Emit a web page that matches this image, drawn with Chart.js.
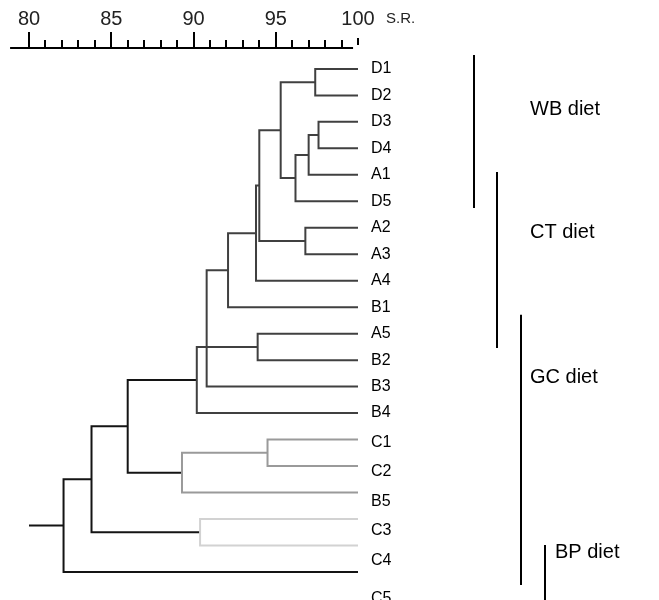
<!DOCTYPE html>
<html>
<head>
<meta charset="utf-8">
<script src="https://cdn.jsdelivr.net/npm/chart.js@4.4.1/dist/chart.umd.min.js"></script>
<style>
    body { margin: 0; background: #fff; }
</style>
</head>
<body>
<canvas id="dendro" width="659" height="600"></canvas>
<script>
const leaves = ['D1', 'D2', 'D3', 'D4', 'A1', 'D5', 'A2', 'A3', 'A4', 'B1',
    'A5', 'B2', 'B3', 'B4', 'C1', 'C2', 'B5', 'C3', 'C4', 'C5'];
// row where each label sits (labels of the C rows drift below their branches)
const labelSlot = [0, 1, 2, 3, 4, 5, 6, 7, 8, 9, 10, 11, 12, 13,
    14.13, 15.22, 16.36, 17.45, 18.59, 20.02];

// node 20 + i joins mergeLeft[i] and mergeRight[i] at similarity mergeLevel[i]
const mergeLeft = [0, 2, 21, 22, 20, 6, 24, 26, 27, 28, 10, 30, 14, 32, 31, 17, 34, 36];
const mergeRight = [1, 3, 4, 5, 23, 7, 25, 8, 9, 12, 11, 13, 15, 16, 33, 18, 35, 19];
const mergeLevel = [97.4, 97.6, 97.0, 96.2, 95.3, 96.8, 94.0, 93.8, 92.1, 90.8,
    93.9, 90.2, 94.5, 89.3, 86.0, 90.4, 83.8, 82.1];

const axisTicks = [80, 85, 90, 95, 100];

const dietNames = ['WB diet', 'CT diet', 'GC diet', 'BP diet'];
const dietFrom = [-0.53, 3.89, 9.29, 17.98];
const dietTo = [5.25, 10.54, 19.49, 20.1];

// colours of the branches, one per merge
const dark = '#404040', black = '#141414', grey = '#9a9a9a', light = '#d2d2d2';
const branchColor = [dark, dark, dark, dark, dark, dark, dark, dark, dark, dark, dark, dark,
    grey, grey, black, light, black, black];

// node positions: leaves sit at 100 %, a merge sits at its level, midway between its children
const nodeX = leaves.map(() => 100);
const nodeY = leaves.map((_, i) => i);
for (let i = 0; i < mergeLevel.length; i++) {
    nodeX.push(mergeLevel[i]);
    nodeY.push((nodeY[mergeLeft[i]] + nodeY[mergeRight[i]]) / 2);
}

const datasets = [];
for (let i = 0; i < mergeLevel.length; i++) {
    const a = mergeLeft[i], b = mergeRight[i];
    datasets.push({
        data: [
            { x: nodeX[a], y: nodeY[a] },
            { x: mergeLevel[i], y: nodeY[a] },
            { x: mergeLevel[i], y: nodeY[b] },
            { x: nodeX[b], y: nodeY[b] }
        ],
        borderColor: branchColor[i],
    });
}
// stub of the root
const root = nodeX.length - 1;
datasets.push({
    data: [{ x: 80, y: nodeY[root] }, { x: nodeX[root], y: nodeY[root] }],
    borderColor: black,
});
datasets.forEach(d => {
    d.showLine = true;
    d.pointRadius = 0;
    d.borderWidth = 2;
    d.borderJoinStyle = 'miter';
    d.fill = false;
    d.clip = 4;
});

const rulerPlugin = {
    id: 'ruler',
    afterDraw(chart) {
        const { ctx, chartArea, scales } = chart;
        const x = scales.x, y = scales.y;
        const top = chartArea.top;
        ctx.save();
        ctx.strokeStyle = '#000';
        ctx.lineWidth = 2;
        ctx.beginPath();
        // the ruler line starts a little left of 80
        ctx.moveTo(x.getPixelForValue(78.85), top);
        ctx.lineTo(x.getPixelForValue(99.7), top);
        for (let v = 80; v < 100; v++) {
            const px = Math.round(x.getPixelForValue(v));
            ctx.moveTo(px, top);
            ctx.lineTo(px, top - (v % 5 === 0 ? 16 : 8));
        }
        const p100 = Math.round(x.getPixelForValue(100));
        ctx.moveTo(p100, top - 3);
        ctx.lineTo(p100, top - 10);
        ctx.stroke();

        ctx.fillStyle = '#222';
        ctx.font = '15px "Liberation Sans", Arial, sans-serif';
        ctx.textBaseline = 'middle';
        ctx.fillText('S.R.', 386, 19);

        // diet brackets
        ctx.fillStyle = '#000';
        ctx.font = '20px "Liberation Sans", Arial, sans-serif';
        const bracketX = [474, 497, 521, 545];
        const textX = [530, 530, 530, 555];
        const textSlot = [1.55, 6.16, 11.64, 18.28];
        for (let i = 0; i < dietNames.length; i++) {
            ctx.beginPath();
            ctx.moveTo(bracketX[i], y.getPixelForValue(dietFrom[i]));
            ctx.lineTo(bracketX[i], y.getPixelForValue(dietTo[i]));
            ctx.stroke();
            ctx.fillText(dietNames[i], textX[i], y.getPixelForValue(textSlot[i]));
        }
        ctx.restore();
    }
};

Chart.defaults.font.family = '"Liberation Sans", Arial, sans-serif';

new Chart(document.getElementById('dendro'), {
    type: 'scatter',
    data: { datasets: datasets },
    plugins: [rulerPlugin],
    options: {
        responsive: false,
        animation: false,
        events: [],
        layout: { padding: { left: 29, top: 0, right: 0, bottom: 0 } },
        plugins: { legend: { display: false }, tooltip: { enabled: false } },
        scales: {
            x: {
                position: 'top',
                min: 80,
                max: 100,
                afterBuildTicks: s => { s.ticks = axisTicks.map(v => ({ value: v })); },
                afterFit: s => { s.height = 48; },
                grid: { display: false, drawTicks: false },
                border: { display: false },
                ticks: {
                    autoSkip: false,
                    maxRotation: 0,
                    padding: 17,
                    color: '#222',
                    font: { size: 20 }
                }
            },
            y: {
                display: false,
                reverse: true,
                min: -0.79,
                max: 20.06
            },
            yl: {
                position: 'right',
                reverse: true,
                min: -0.79,
                max: 20.06,
                afterBuildTicks: s => { s.ticks = labelSlot.map(v => ({ value: v })); },
                afterFit: s => {
                    s.width = 301;
                    s.paddingTop = 0;
                    s.paddingBottom = 0;
                },
                grid: { display: false, drawTicks: false },
                border: { display: false },
                ticks: {
                    autoSkip: false,
                    padding: 13,
                    color: '#000',
                    font: { size: 16 },
                    callback: (value, index) => leaves[index]
                }
            }
        }
    }
});
</script>
</body>
</html>
